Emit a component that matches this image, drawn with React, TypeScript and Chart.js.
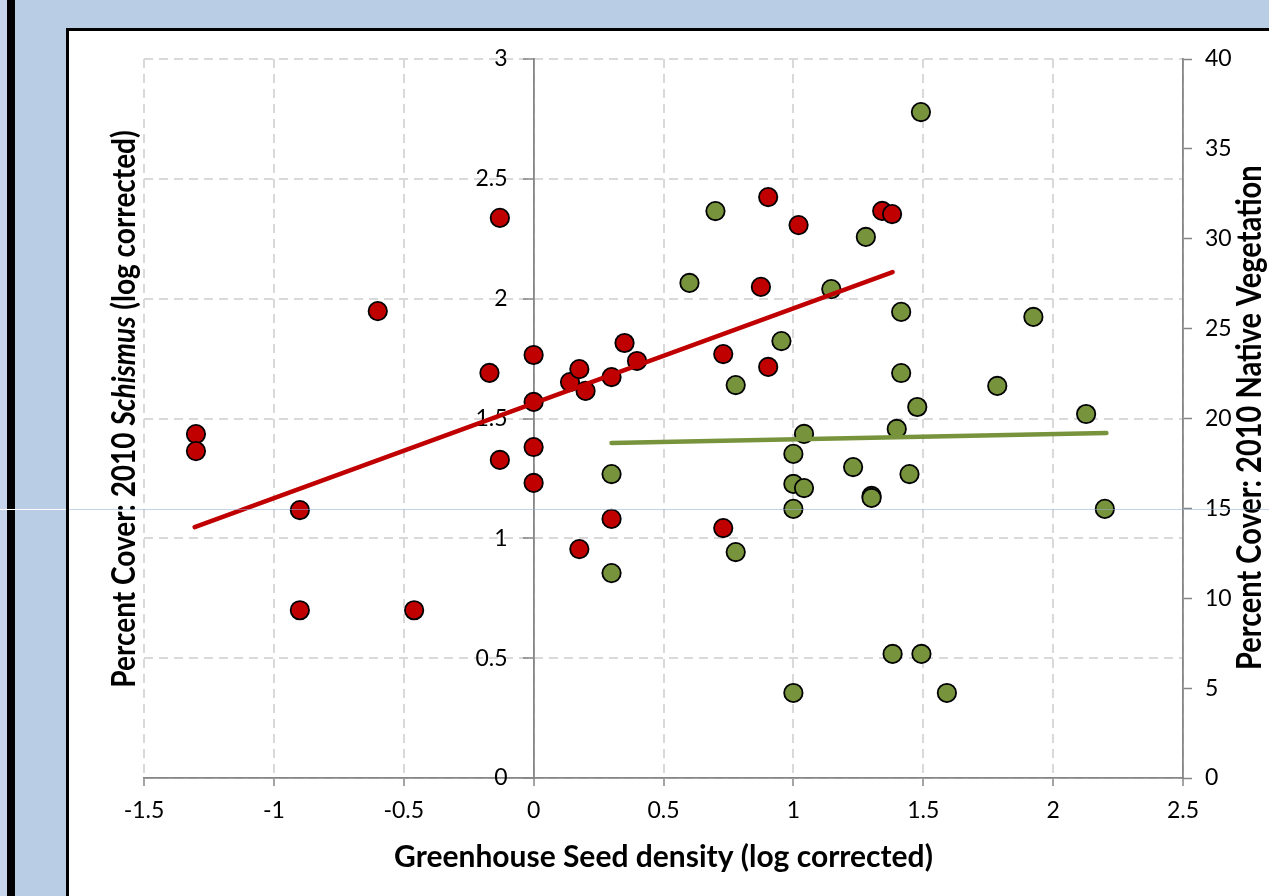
import React, { useEffect, useRef } from 'react';
import { Chart, registerables } from 'chart.js';

Chart.register(...registerables);

// ---- data ----
const schismusX = [-1.3, -1.3, -0.9, -0.9, -0.6, -0.46, -0.17, -0.13, -0.13, 0, 0, 0, 0, 0.14, 0.176, 0.2, 0.3, 0.35, 0.398, 0.3, 0.176, 0.73, 0.73, 0.903, 0.875, 0.903, 1.02, 1.342, 1.38];
const schismusY = [1.435, 1.364, 1.118, 0.70, 1.948, 0.70, 1.69, 2.337, 1.327, 1.765, 1.569, 1.381, 1.231, 1.652, 1.706, 1.615, 1.673, 1.815, 1.74, 1.081, 0.955, 1.769, 1.043, 2.424, 2.049, 1.715, 2.307, 2.366, 2.353];

const nativeX = [0.3, 0.3, 0.6, 0.7, 0.778, 0.778, 0.954, 1, 1, 1, 1, 1.041, 1.041, 1.146, 1.23, 1.279, 1.301, 1.301, 1.382, 1.398, 1.415, 1.415, 1.447, 1.477, 1.491, 1.493, 1.591, 1.785, 1.924, 2.127, 2.199];
const nativeY = [16.91, 11.40, 27.54, 31.54, 21.86, 12.57, 24.31, 18.03, 16.36, 14.97, 4.73, 19.14, 16.13, 27.2, 17.3, 30.1, 15.69, 15.58, 6.9, 19.42, 25.93, 22.53, 16.91, 20.64, 37.05, 6.9, 4.73, 21.81, 25.65, 20.25, 14.97];

const schismusTrendX = [-1.305, 1.382];
const schismusTrendY = [1.047, 2.111];
const nativeTrendX = [0.3, 2.205];
const nativeTrendY = [18.64, 19.19];

const xTickValues = [-1.5, -1, -0.5, 0, 0.5, 1, 1.5, 2, 2.5];
const leftTickValues = [0, 0.5, 1, 1.5, 2, 2.5, 3];
const rightTickValues = [0, 5, 10, 15, 20, 25, 30, 35, 40];

const xTitle = 'Greenhouse Seed density (log corrected)';
const leftTitleParts = [
  { text: 'Percent Cover: 2010 ', italic: false },
  { text: 'Schismus', italic: true },
  { text: ' (log corrected)', italic: false },
];
const rightTitle = 'Percent Cover: 2010 Native Vegetation';

// ---- styles ----
const RED = '#c00000';
const GREEN = '#77933c';
const GRID = '#d9d9d9';
const AXIS = '#868686';
const FONT = 'Lato';
const TICK_SIZE = 23;
const X_TITLE_SIZE = 30;
const Y_TITLE_SIZE = 28;
const R_TITLE_SIZE = 29;
const Y_TITLE_STRETCH = 1.18;

const toPoints = (xs: number[], ys: number[]) => xs.map((x, i) => ({ x, y: ys[i] }));
const plainLabel = (v: any) => String(Number(v));

// Left axis sits at x = 0 inside the plot; its labels are placed left of the tick marks.
const leftLabelsPlugin = {
  id: 'leftAxisLabels',
  beforeDatasetsDraw(chart: any) {
    const ctx: CanvasRenderingContext2D = chart.ctx;
    const yScale = chart.scales.y;
    const axisX = chart.scales.x.getPixelForValue(0);
    ctx.save();
    ctx.fillStyle = '#000';
    ctx.font = `${TICK_SIZE}px ${FONT}`;
    ctx.textAlign = 'right';
    ctx.textBaseline = 'middle';
    leftTickValues.forEach(v => {
      ctx.fillText(plainLabel(v), axisX - 26, yScale.getPixelForValue(v));
    });
    ctx.restore();
  },
};

const titlePlugin = {
  id: 'customTitles',
  afterDraw(chart: any) {
    const ctx: CanvasRenderingContext2D = chart.ctx;
    const area = chart.chartArea;
    ctx.save();
    ctx.fillStyle = '#000';
    ctx.textBaseline = 'alphabetic';

    // x title
    ctx.save();
    ctx.font = `bold ${X_TITLE_SIZE}px ${FONT}`;
    ctx.textAlign = 'center';
    ctx.fillText(xTitle, (area.left + area.right) / 2, 836);
    ctx.restore();

    // left title (mixed styles), rotated bottom-to-top
    ctx.save();
    ctx.translate(66, 378);
    ctx.rotate(-Math.PI / 2);
    ctx.scale(1, Y_TITLE_STRETCH);
    ctx.textAlign = 'left';
    const fonts = leftTitleParts.map(p => `${p.italic ? 'italic ' : ''}bold ${Y_TITLE_SIZE}px ${FONT}`);
    let total = 0;
    const widths = leftTitleParts.map((p, i) => {
      ctx.font = fonts[i];
      const w = ctx.measureText(p.text).width;
      total += w;
      return w;
    });
    let cx = -total / 2;
    leftTitleParts.forEach((p, i) => {
      ctx.font = fonts[i];
      ctx.fillText(p.text, cx, 0);
      cx += widths[i];
    });
    ctx.restore();

    // right title, rotated bottom-to-top, anchored at its start
    ctx.save();
    ctx.translate(1192, 639);
    ctx.rotate(-Math.PI / 2);
    ctx.scale(1, Y_TITLE_STRETCH);
    ctx.font = `bold ${R_TITLE_SIZE}px ${FONT}`;
    ctx.textAlign = 'left';
    ctx.fillText(rightTitle, 0, 0);
    ctx.restore();

    ctx.restore();
  },
};

export default function App() {
  const ref = useRef<HTMLCanvasElement>(null);

  useEffect(() => {
    if (!ref.current) return;
    Chart.defaults.font.family = FONT;
    const tickFont = { family: FONT, size: TICK_SIZE };
    const chart = new Chart(ref.current, {
      type: 'scatter',
      data: {
        datasets: [
          {
            label: 'Schismus trend',
            type: 'line',
            data: toPoints(schismusTrendX, schismusTrendY),
            yAxisID: 'y',
            borderColor: RED,
            borderWidth: 4.5,
            borderCapStyle: 'round',
            pointRadius: 0,
            fill: false,
            order: 0,
          } as any,
          {
            label: 'Native trend',
            type: 'line',
            data: toPoints(nativeTrendX, nativeTrendY),
            yAxisID: 'y2',
            borderColor: GREEN,
            borderWidth: 4.5,
            borderCapStyle: 'round',
            pointRadius: 0,
            fill: false,
            order: 0,
          } as any,
          {
            label: 'Schismus',
            data: toPoints(schismusX, schismusY),
            yAxisID: 'y',
            backgroundColor: RED,
            borderColor: '#000',
            borderWidth: 1.8,
            pointRadius: 9.2,
            order: 1,
          },
          {
            label: 'Native',
            data: toPoints(nativeX, nativeY),
            yAxisID: 'y2',
            backgroundColor: GREEN,
            borderColor: '#000',
            borderWidth: 1.8,
            pointRadius: 9.2,
            order: 2,
          },
        ],
      },
      options: {
        animation: false,
        responsive: false,
        layout: { padding: { left: 75, top: 28, right: 36, bottom: 23 } },
        plugins: { legend: { display: false }, tooltip: { enabled: false } },
        scales: {
          x: {
            type: 'linear',
            position: 'bottom',
            min: -1.5,
            max: 2.5,
            afterBuildTicks: (s: any) => { s.ticks = xTickValues.map(v => ({ value: v })); },
            afterFit: (s: any) => { s.height = 100; },
            ticks: { font: tickFont, color: '#000', padding: 11, maxRotation: 0, callback: plainLabel },
            grid: { color: GRID, lineWidth: 2, tickColor: AXIS, tickLength: 8, tickWidth: 1.5 },
            border: { color: AXIS, width: 1.8, dash: [9, 6] },
          },
          y: {
            type: 'linear',
            position: { x: 0 } as any,
            min: 0,
            max: 3,
            afterBuildTicks: (s: any) => { s.ticks = leftTickValues.map(v => ({ value: v })); },
            ticks: { display: false },
            grid: { color: GRID, lineWidth: 2, tickColor: AXIS, tickLength: 10, tickWidth: 1.5 },
            border: { color: AXIS, width: 1.8, dash: [9, 6] },
          },
          y2: {
            type: 'linear',
            position: 'right',
            min: 0,
            max: 40,
            afterBuildTicks: (s: any) => { s.ticks = rightTickValues.map(v => ({ value: v })); },
            afterFit: (s: any) => { s.width = 80; },
            ticks: { font: tickFont, color: '#000', padding: 13, callback: plainLabel },
            grid: { drawOnChartArea: false, tickColor: AXIS, tickLength: 9, tickWidth: 1.5 },
            border: { color: AXIS, width: 1.8 },
          },
        },
      },
      plugins: [leftLabelsPlugin, titlePlugin],
    } as any);
    return () => chart.destroy();
  }, []);

  return (
    <div style={{ position: 'fixed', left: 0, top: 0, width: 1269, height: 896, overflow: 'hidden', background: '#b9cde5' }}>
      <div style={{ position: 'absolute', left: 0, top: 0, width: 7, height: 896, background: '#c6d4ec' }} />
      <div style={{ position: 'absolute', left: 7, top: 0, width: 8, height: 896, background: '#000' }} />
      <div style={{ position: 'absolute', left: 66, top: 28, width: 1300, height: 1000, background: '#fff', border: '3px solid #000', boxSizing: 'border-box' }}>
        <canvas ref={ref} width={1230} height={870} style={{ position: 'absolute', left: 0, top: 0, width: 1230, height: 870 }} />
      </div>
      <div style={{ position: 'absolute', left: 0, top: 509, width: 66, height: 1, background: '#ffffff' }} />
      <div style={{ position: 'absolute', left: 69, top: 509, width: 1200, height: 1, background: 'rgba(150,175,215,0.55)' }} />
    </div>
  );
}
